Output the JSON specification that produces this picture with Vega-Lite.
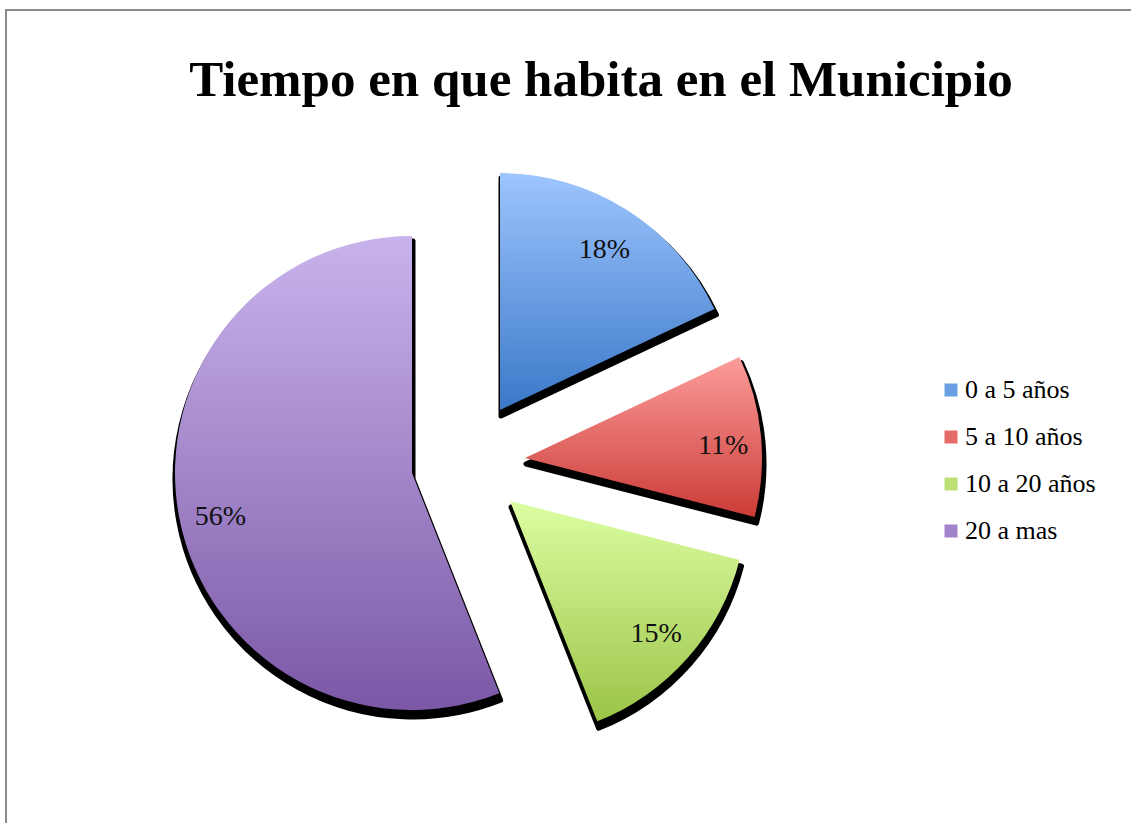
{
  "$schema": "https://vega.github.io/schema/vega-lite/v6.json",
  "autosize": "none",
  "padding": {"left": 6, "top": 10, "right": 0, "bottom": 0},
  "width": 1140,
  "height": 830,
  "background": "white",
  "config": {
    "view": {"stroke": null, "fill": null}
  },
  "title": {
    "text": "Tiempo en que habita en el Municipio",
    "font": "Liberation Serif",
    "fontSize": 51,
    "fontWeight": "bold",
    "color": "black",
    "anchor": "middle",
    "frame": "group",
    "baseline": "alphabetic",
    "offset": -138,
    "dx": 25
  },
  "data": {
    "values": [
      {"cat": "0 a 5 años", "value": 18, "ord": 1, "label": "18%"},
      {"cat": "5 a 10 años", "value": 11, "ord": 2, "label": "11%"},
      {"cat": "10 a 20 años", "value": 15, "ord": 3, "label": "15%"},
      {"cat": "20 a mas", "value": 56, "ord": 4, "label": "56%"}
    ]
  },
  "encoding": {
    "theta": {"field": "value", "type": "quantitative", "stack": true},
    "order": {"field": "ord", "type": "quantitative"}
  },
  "layer": [
    {
      "data": {"values": [{"frame": 1}]},
      "mark": {"type": "rect", "fill": null, "stroke": "#8a8a8a", "strokeWidth": 2},
      "encoding": {"theta": null, "order": null}
    },
    {
      "mark": {"type": "arc", "radius": 10, "opacity": 0},
      "encoding": {
        "color": {
          "field": "cat", "type": "nominal",
          "scale": {
            "domain": ["0 a 5 años", "5 a 10 años", "10 a 20 años", "20 a mas"],
            "range": ["#6a9fe3", "#e46b67", "#bde074", "#a183cb"]
          },
          "legend": {
            "title": null,
            "orient": "none",
            "legendX": 932,
            "legendY": 367,
            "padding": 0,
            "symbolType": "square",
            "symbolSize": 169,
            "symbolStrokeWidth": 0,
            "symbolOpacity": 1,
            "labelFont": "Liberation Serif",
            "labelFontSize": 26,
            "labelColor": "black",
            "labelOffset": 1,
            "rowPadding": 21
          }
        }
      }
    },
    {
      "mark": {"type": "arc", "radius": 238, "fill": "black", "stroke": "black", "strokeWidth": 5, "strokeJoin": "round", "xOffset": -75, "yOffset": -9},
      "encoding": {"opacity": {"condition": {"test": "datum.cat === '0 a 5 años'", "value": 1}, "value": 0}}
    },
    {
      "mark": {"type": "arc", "radius": 238, "fill": "black", "stroke": "black", "strokeWidth": 5, "strokeJoin": "round", "xOffset": -50, "yOffset": 39},
      "encoding": {"opacity": {"condition": {"test": "datum.cat === '5 a 10 años'", "value": 1}, "value": 0}}
    },
    {
      "mark": {"type": "arc", "radius": 238, "fill": "black", "stroke": "black", "strokeWidth": 5, "strokeJoin": "round", "xOffset": -65, "yOffset": 82},
      "encoding": {"opacity": {"condition": {"test": "datum.cat === '10 a 20 años'", "value": 1}, "value": 0}}
    },
    {
      "mark": {"type": "arc", "radius": 238, "fill": "black", "stroke": "black", "strokeWidth": 5, "strokeJoin": "round", "xOffset": -163, "yOffset": 54},
      "encoding": {"opacity": {"condition": {"test": "datum.cat === '20 a mas'", "value": 1}, "value": 0}}
    },
    {
      "mark": {"type": "arc", "radius": 237, "strokeWidth": 0, "xOffset": -76, "yOffset": -15,
        "color": {"gradient": "linear", "x1": 0, "y1": 0, "x2": 0, "y2": 1, "stops": [{"offset": 0, "color": "#9ec5fe"}, {"offset": 1, "color": "#3a78c8"}]}},
      "encoding": {"opacity": {"condition": {"test": "datum.cat === '0 a 5 años'", "value": 1}, "value": 0}}
    },
    {
      "mark": {"type": "arc", "radius": 237, "strokeWidth": 0, "xOffset": -51, "yOffset": 33,
        "color": {"gradient": "linear", "x1": 0, "y1": 0, "x2": 0, "y2": 1, "stops": [{"offset": 0, "color": "#fc9d9b"}, {"offset": 1, "color": "#cb3b36"}]}},
      "encoding": {"opacity": {"condition": {"test": "datum.cat === '5 a 10 años'", "value": 1}, "value": 0}}
    },
    {
      "mark": {"type": "arc", "radius": 237, "strokeWidth": 0, "xOffset": -66, "yOffset": 76,
        "color": {"gradient": "linear", "x1": 0, "y1": 0, "x2": 0, "y2": 1, "stops": [{"offset": 0, "color": "#dcfea2"}, {"offset": 1, "color": "#9bc448"}]}},
      "encoding": {"opacity": {"condition": {"test": "datum.cat === '10 a 20 años'", "value": 1}, "value": 0}}
    },
    {
      "mark": {"type": "arc", "radius": 237, "strokeWidth": 0, "xOffset": -164, "yOffset": 48,
        "color": {"gradient": "linear", "x1": 0, "y1": 0, "x2": 0, "y2": 1, "stops": [{"offset": 0, "color": "#c9b3ec"}, {"offset": 1, "color": "#7b58a6"}]}},
      "encoding": {"opacity": {"condition": {"test": "datum.cat === '20 a mas'", "value": 1}, "value": 0}}
    },
    {
      "mark": {"type": "text", "radius": 195, "font": "Liberation Serif", "fontSize": 28, "color": "#111", "align": "center", "baseline": "middle", "dy": 5, "xOffset": -76, "yOffset": -15},
      "encoding": {
        "text": {"field": "label"},
        "opacity": {"condition": {"test": "datum.cat === '0 a 5 años'", "value": 1}, "value": 0}
      }
    },
    {
      "mark": {"type": "text", "radius": 195, "font": "Liberation Serif", "fontSize": 28, "color": "#111", "align": "center", "baseline": "middle", "dy": 6, "dx": 4, "xOffset": -51, "yOffset": 33},
      "encoding": {
        "text": {"field": "label"},
        "opacity": {"condition": {"test": "datum.cat === '5 a 10 años'", "value": 1}, "value": 0}
      }
    },
    {
      "mark": {"type": "text", "radius": 195, "font": "Liberation Serif", "fontSize": 28, "color": "#111", "align": "center", "baseline": "middle", "dy": 4, "xOffset": -66, "yOffset": 76},
      "encoding": {
        "text": {"field": "label"},
        "opacity": {"condition": {"test": "datum.cat === '10 a 20 años'", "value": 1}, "value": 0}
      }
    },
    {
      "mark": {"type": "text", "radius": 195, "font": "Liberation Serif", "fontSize": 28, "color": "#111", "align": "center", "baseline": "middle", "dy": 7, "xOffset": -164, "yOffset": 48},
      "encoding": {
        "text": {"field": "label"},
        "opacity": {"condition": {"test": "datum.cat === '20 a mas'", "value": 1}, "value": 0}
      }
    }
  ]
}
